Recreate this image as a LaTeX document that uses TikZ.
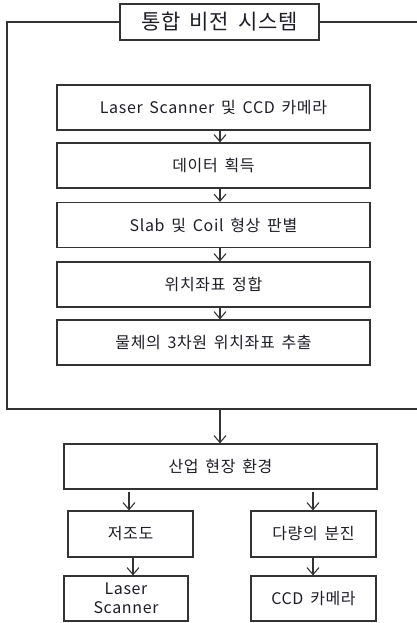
\documentclass[tikz,border=0pt]{standalone}
\usepackage{fontspec}
\setmainfont{Noto Sans CJK KR}[LetterSpace=4,WordSpace=1.6]
\usetikzlibrary{arrows.meta}
\definecolor{ln}{HTML}{333333}
\definecolor{tx}{HTML}{1E1E28}
\tikzset{
  boxa/.style={draw=ln, line width=1.2pt, minimum height=45pt, inner sep=0pt, text=tx, font=\fontsize{16}{18}\selectfont, align=center, fill=white},
  arr/.style={draw=ln, line width=1.1pt, -{Straight Barb[length=7pt,width=12pt,line width=1.1pt]}},
  frame/.style={draw=ln, line width=1.3pt},
}
\begin{document}
\begin{tikzpicture}[x=1pt,y=-1pt]
\useasboundingbox (0,0) rectangle (417,623);
% title and frame
\node[boxa, minimum width=199pt, minimum height=36pt, font=\fontsize{21}{23}\selectfont] (title) at (219.5,22) {통합 비전 시스템};
\coordinate (ftl) at (7,22);
\coordinate (fbl) at (7,409);
\coordinate (fbr) at (417,409);
\coordinate (ftr) at (417,22);
\draw[frame] (title.west) -- (ftl) -- (fbl) -- (fbr);
\draw[frame] (title.east) -- (ftr);
% inner column
\node[boxa, minimum width=313pt] (b1) at (213.5,107.5) {Laser Scanner 및 CCD 카메라};
\node[boxa, minimum width=313pt] (b2) at (213.5,165.5) {데이터 획득};
\node[boxa, minimum width=313pt] (b3) at (213.5,225) {Slab 및 Coil 형상 판별};
\node[boxa, minimum width=313pt] (b4) at (213.5,284.5) {위치좌표 정합};
\node[boxa, minimum width=313pt] (b5) at (213.5,342.5) {물체의 3차원 위치좌표 추출};
\coordinate (ax) at (220,0);
\draw[arr] (b1.south -| ax) -- (b2.north -| ax);
\draw[arr] (b2.south -| ax) -- (b3.north -| ax);
\draw[arr] (b3.south -| ax) -- (b4.north -| ax);
\draw[arr] (b4.south -| ax) -- (b5.north -| ax);
% lower part
\node[boxa, minimum width=313pt] (env) at (220.5,466.5) {산업 현장 환경};
\draw[arr] (fbl -| ax) -- (env.north -| ax);
\node[boxa, minimum width=125pt, minimum height=46pt] (low) at (130.5,534) {저조도};
\node[boxa, minimum width=125pt, minimum height=46pt] (dust) at (313.5,534) {다량의 분진};
\node[boxa, minimum width=124pt, minimum height=45pt, font=\fontsize{16}{19}\selectfont] (ls) at (126,598.5) {Laser\\Scanner};
\node[boxa, minimum width=125pt, minimum height=45pt] (ccd) at (313.5,598.5) {CCD 카메라};
\coordinate (lx) at (129,0);
\coordinate (lx2) at (133,0);
\coordinate (rx) at (313,0);
\draw[arr] (env.south -| lx) ++(0,2) -- (low.north -| lx);
\draw[arr] (env.south -| rx) ++(0,2) -- (dust.north -| rx);
\draw[arr] (low.south -| lx2) -- (ls.north -| lx2);
\draw[arr] (dust.south -| rx) -- (ccd.north -| rx);
\end{tikzpicture}
\end{document}
